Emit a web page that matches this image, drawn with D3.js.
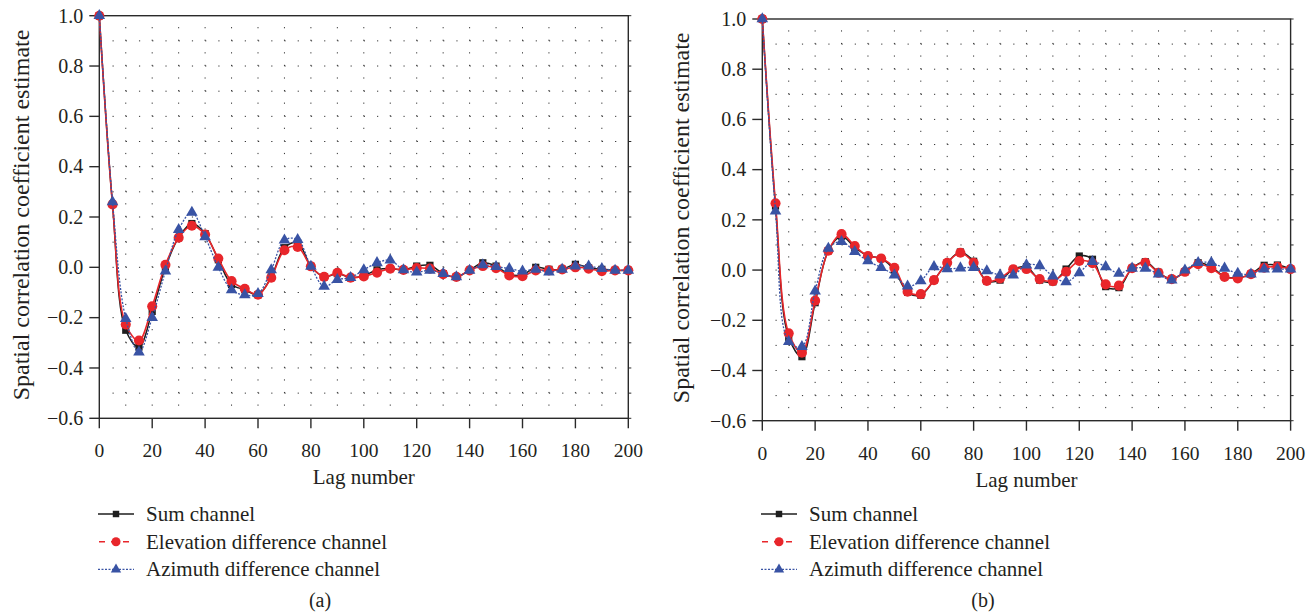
<!DOCTYPE html>
<html>
<head>
<meta charset="utf-8">
<script src="https://cdn.jsdelivr.net/npm/d3@7"></script>
<style>
  body { margin: 0; background: #fff; }
  svg text { font-family: "Liberation Serif", "DejaVu Serif", serif; fill: #231f20; }
</style>
</head>
<body>
<div class="chart"></div>
<script>
// Lag values shared by both panels.
var lags = [0, 5, 10, 15, 20, 25, 30, 35, 40, 45, 50, 55, 60, 65, 70, 75, 80, 85, 90, 95, 100,
            105, 110, 115, 120, 125, 130, 135, 140, 145, 150, 155, 160, 165, 170, 175, 180, 185, 190, 195, 200];

// Panel (a)
var sumA  = [1.0, 0.25, -0.25, -0.317, -0.175, 0.0, 0.118, 0.174, 0.134, 0.03, -0.068, -0.089, -0.109, -0.038, 0.078, 0.097, 0.004,
             -0.038, -0.025, -0.041, -0.033, -0.01, -0.005, -0.01, 0.005, 0.008, -0.025, -0.038, -0.012, 0.018, 0.005, -0.028, -0.03,
             0.0, -0.008, -0.008, 0.012, -0.002, -0.008, -0.012, -0.012];
var elevA = [1.0, 0.25, -0.227, -0.291, -0.155, 0.01, 0.118, 0.165, 0.13, 0.035, -0.055, -0.085, -0.109, -0.041, 0.068, 0.081, 0.004,
             -0.038, -0.022, -0.041, -0.036, -0.021, -0.005, -0.01, -0.003, -0.005, -0.027, -0.038, -0.012, 0.005, -0.003, -0.032, -0.035,
             -0.012, -0.012, -0.008, 0.0, -0.005, -0.015, -0.012, -0.012];
var aziA  = [1.0, 0.26, -0.204, -0.337, -0.2, -0.015, 0.15, 0.218, 0.121, 0.0, -0.09, -0.11, -0.105, -0.01, 0.108, 0.11, 0.004,
             -0.076, -0.049, -0.041, -0.01, 0.018, 0.028, -0.01, -0.019, -0.012, -0.025, -0.038, -0.012, 0.01, 0.003, -0.005, -0.015,
             -0.008, -0.019, -0.008, 0.005, 0.005, -0.005, -0.012, -0.012];

// Panel (b)
var sumB  = [1.0, 0.255, -0.268, -0.345, -0.13, 0.077, 0.135, 0.09, 0.056, 0.046, 0.0, -0.089, -0.1, -0.04, 0.029, 0.072, 0.035,
             -0.044, -0.04, 0.003, 0.013, -0.04, -0.047, 0.004, 0.056, 0.043, -0.066, -0.07, 0.007, 0.033, -0.009, -0.036, -0.007,
             0.029, 0.013, -0.026, -0.031, -0.016, 0.019, 0.02, 0.004];
var elevB = [1.0, 0.266, -0.252, -0.329, -0.122, 0.077, 0.143, 0.096, 0.056, 0.046, 0.009, -0.086, -0.096, -0.04, 0.029, 0.069, 0.029,
             -0.043, -0.033, 0.003, 0.004, -0.036, -0.044, -0.007, 0.036, 0.027, -0.057, -0.062, 0.007, 0.029, -0.011, -0.036, -0.007,
             0.023, 0.007, -0.027, -0.033, -0.016, 0.009, 0.013, 0.004];
var aziB  = [1.0, 0.235, -0.285, -0.305, -0.084, 0.086, 0.113, 0.073, 0.036, 0.01, -0.02, -0.064, -0.043, 0.013, 0.005, 0.008, 0.01,
             -0.003, -0.02, -0.02, 0.02, 0.017, -0.024, -0.047, -0.011, 0.033, 0.013, -0.013, 0.007, 0.007, -0.016, -0.04, 0.0,
             0.029, 0.029, 0.007, -0.013, -0.016, 0.004, 0.004, 0.004];

var xTicks = [0, 20, 40, 60, 80, 100, 120, 140, 160, 180, 200];
var yTicks = [1.0, 0.8, 0.6, 0.4, 0.2, 0.0, -0.2, -0.4, -0.6];
var seriesNames = ["Sum channel", "Elevation difference channel", "Azimuth difference channel"];

var w = 1316, h = 615;

var svg = d3.select(".chart").append("svg")
  .attr("width", w)
  .attr("height", h);

var black = "#1e1e1e", red = "#e8262b", blue = "#3953a4";

drawPanel({ left: 99.3, right: 628.3, top: 15.7, bottom: 418.3, labelX: 29, legendX: 98, caption: "(a)", captionX: 320,
            series: [sumA, elevA, aziA] });
drawPanel({ left: 762.3, right: 1290.6, top: 19, bottom: 420.7, labelX: 689, legendX: 761, caption: "(b)", captionX: 983,
            series: [sumB, elevB, aziB] });

function fmt(v) {
  return (v < 0 ? "\u2212" : "") + Math.abs(v).toFixed(1);
}

function drawPanel(p) {
  var x = d3.scaleLinear().domain([0, 200]).range([p.left, p.right]);
  var y = d3.scaleLinear().domain([-0.6, 1.0]).range([p.bottom, p.top]);
  var g = svg.append("g");

  // Dotted grid: horizontal every 0.1, vertical every 10 lags.
  var stepX = x(5) - x(0), stepY = y(0) - y(0.05);
  var hLines = d3.range(-5, 10).map(function(i) { return i / 10; });
  var vLines = d3.range(10, 200, 10);
  g.selectAll(".hgrid").data(hLines).enter().append("line")
    .attr("x1", p.left + stepX).attr("x2", p.right)
    .attr("y1", function(d) { return y(d); }).attr("y2", function(d) { return y(d); })
    .attr("stroke", "#333").attr("stroke-width", 1)
    .attr("stroke-dasharray", "1.2," + (stepX - 1.2));
  g.selectAll(".vgrid").data(vLines).enter().append("line")
    .attr("x1", function(d) { return x(d); }).attr("x2", function(d) { return x(d); })
    .attr("y1", p.bottom - stepY).attr("y2", p.top)
    .attr("stroke", "#333").attr("stroke-width", 1)
    .attr("stroke-dasharray", "1.2," + (stepY - 1.2));

  // Frame
  g.append("rect")
    .attr("x", p.left).attr("y", p.top)
    .attr("width", p.right - p.left).attr("height", p.bottom - p.top)
    .attr("fill", "none").attr("stroke", "#2a2a2a").attr("stroke-width", 1.4);

  // Right side minor ticks
  g.selectAll(".rtick").data(hLines.concat([-0.6, 1.0])).enter().append("line")
    .attr("x1", p.right).attr("x2", p.right + 3)
    .attr("y1", function(d) { return y(d); }).attr("y2", function(d) { return y(d); })
    .attr("stroke", "#2a2a2a").attr("stroke-width", 1);

  // Y axis
  g.selectAll(".ytick").data(yTicks).enter().append("line")
    .attr("x1", p.left - 10).attr("x2", p.left)
    .attr("y1", function(d) { return y(d); }).attr("y2", function(d) { return y(d); })
    .attr("stroke", "#2a2a2a").attr("stroke-width", 1.4);
  g.selectAll(".ylab").data(yTicks).enter().append("text")
    .attr("x", p.left - 16)
    .attr("y", function(d) { return y(d); })
    .attr("dy", "0.34em")
    .style("text-anchor", "end")
    .style("font-size", "20px")
    .text(fmt);

  // X axis
  g.selectAll(".xtick").data(xTicks).enter().append("line")
    .attr("x1", function(d) { return x(d); }).attr("x2", function(d) { return x(d); })
    .attr("y1", p.bottom).attr("y2", p.bottom + 10)
    .attr("stroke", "#2a2a2a").attr("stroke-width", 1.4);
  g.selectAll(".xlab").data(xTicks).enter().append("text")
    .attr("x", function(d) { return x(d); })
    .attr("y", p.bottom + 39)
    .style("text-anchor", "middle")
    .style("font-size", "19.5px")
    .text(function(d) { return d; });

  g.append("text")
    .attr("x", (p.left + p.right) / 2)
    .attr("y", p.bottom + 66)
    .style("text-anchor", "middle")
    .style("font-size", "21px")
    .text("Lag number");

  g.append("text")
    .attr("transform", "translate(" + p.labelX + "," + ((p.top + p.bottom) / 2 - 2) + ") rotate(-90)")
    .style("text-anchor", "middle")
    .style("font-size", "24px")
    .text("Spatial correlation coefficient estimate");

  // Lines and markers
  var line = d3.line()
    .x(function(d, i) { return x(lags[i]); })
    .y(function(d) { return y(d); })
    .curve(d3.curveCatmullRom.alpha(0.5));

  var styles = [
    { color: black, width: 1.5, dash: null, shape: d3.symbolSquare, size: 52 },
    { color: red, width: 1.6, dash: null, shape: d3.symbolCircle, size: 80 },
    { color: blue, width: 1.3, dash: "2,1.5", shape: d3.symbolTriangle, size: 58 }
  ];

  p.series.forEach(function(vals, k) {
    var s = styles[k];
    g.append("path")
      .attr("d", line(vals))
      .attr("fill", "none")
      .attr("stroke", s.color)
      .attr("stroke-width", s.width)
      .attr("stroke-dasharray", s.dash);
    g.selectAll(".m" + k).data(vals).enter().append("path")
      .attr("transform", function(d, i) { return "translate(" + x(lags[i]) + "," + y(d) + ")"; })
      .attr("d", d3.symbol().type(s.shape).size(s.size))
      .attr("fill", s.color);
  });

  // Legend
  var legendDash = [null, "6,6", "2,1.5"];
  seriesNames.forEach(function(name, k) {
    var s = styles[k];
    var ly = 514 + k * 27.7;
    g.append("line")
      .attr("x1", p.legendX).attr("x2", p.legendX + 36)
      .attr("y1", ly).attr("y2", ly)
      .attr("stroke", s.color).attr("stroke-width", k === 2 ? 1.2 : 1.5)
      .attr("stroke-dasharray", legendDash[k])
      .attr("stroke-dashoffset", k === 1 ? -1 : 0);
    g.append("path")
      .attr("transform", "translate(" + (p.legendX + 18) + "," + ly + ")")
      .attr("d", d3.symbol().type(s.shape).size(s.size * 0.8))
      .attr("fill", s.color);
    g.append("text")
      .attr("x", p.legendX + 48)
      .attr("y", ly + 7)
      .style("font-size", "21px")
      .text(name);
  });

  g.append("text")
    .attr("x", p.captionX)
    .attr("y", 607)
    .style("text-anchor", "middle")
    .style("font-size", "20px")
    .text(p.caption);
}
</script>
</body>
</html>
